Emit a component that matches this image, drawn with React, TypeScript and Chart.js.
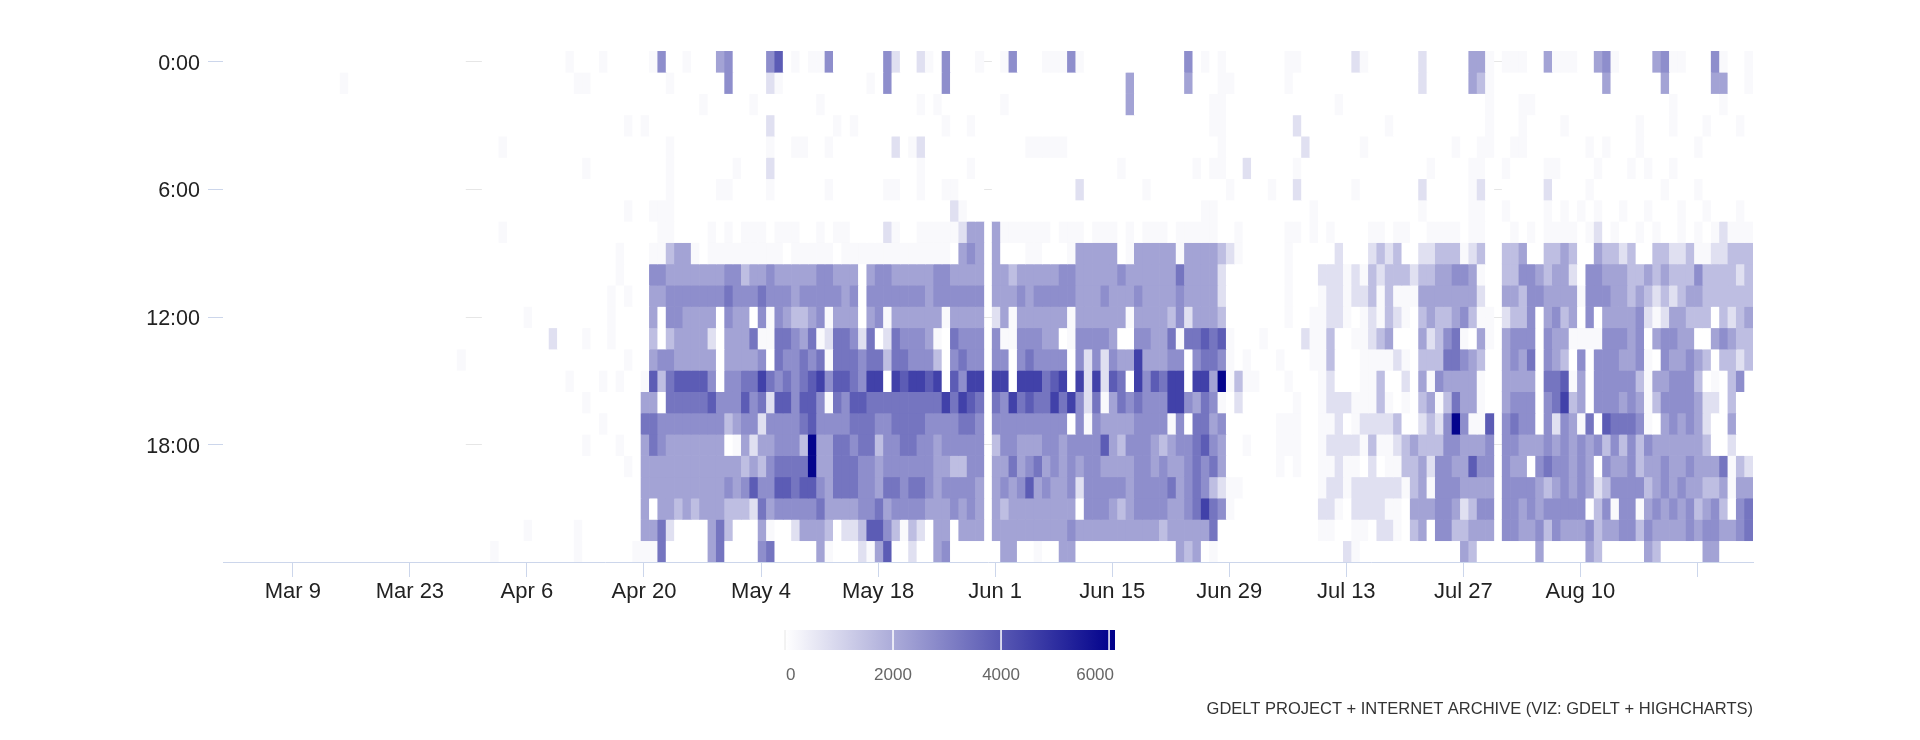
import React, { useEffect, useRef } from "react";
import { Chart, registerables } from "chart.js";

Chart.register(...registerables);

// one column per day, Mar 1 .. Aug 30 (2020)
const DAY_COUNT = 183;
const X_TICK_DAYS = [8, 22, 36, 50, 64, 78, 92, 106, 120, 134, 148, 162, 176];
const X_TICK_LABELS = ["Mar 9", "Mar 23", "Apr 6", "Apr 20", "May 4", "May 18", "Jun 1", "Jun 15", "Jun 29", "Jul 13", "Jul 27", "Aug 10", ""];
const Y_TICK_HOURS = [0, 6, 12, 18];
const Y_TICK_LABELS = ["0:00", "6:00", "12:00", "18:00"];

// estimated value for each shade ('_' = no data)
const LEVEL_VALUES = [0, 150, 750, 1550, 2200, 2700, 3300, 3900, 4550, 6000];
const COLOR_MAX = 6110;
const COLOR_TICKS = [0, 2000, 4000, 6000];

// one string per hour, one char per day, grouped by week
const HOUR_ROWS = [
  "0000000 0000000 0000000 0000000 0__0000 0000001 0001000 0015001 0004500 0057010 1150000 0052002 1050001 _015000 1115100 0000000 0005010 1000000 0110000 0021000 0002000 00441_1 1100411 1004510 0004511 0005100 1",
  "0000000 0000000 1000000 0000000 0__0000 0000000 1100000 0000100 0000500 0021000 0000000 1050000 0050000 _000000 0000000 0004000 0004000 1100000 0100000 0000000 0002000 00431_0 0000000 0000400 0000400 0004400 1",
  "0000000 0000000 0000000 0000000 0__0000 0000000 0000000 0000000 0100000 1000000 0100000 0000001 0100000 _010000 0000000 0004000 0000001 1000000 0000000 1000000 0000000 00001_0 0110000 0000000 0000010 0000100 0",
  "0000000 0000000 0000000 0000000 0__0000 0000000 0000001 0100000 0000000 0020000 0001010 0000000 0010010 _000000 0000000 0000000 0000001 1000000 0020000 0000001 0000000 00001_0 0100001 0000000 0100010 0010001 0",
  "0000000 0000000 0000000 0000000 0__0010 0000000 0000000 0000100 0000000 0010011 0010000 0002012 0000000 _000011 1110000 0000000 0000000 1000000 0002000 0001000 0000000 10011_0 1100000 0010100 0100000 0100000 0",
  "0000000 0000000 0000000 0000000 0__0000 0000000 0100000 0000100 0000010 0020000 0000000 0000001 0000010 _000000 0000000 0010000 0000101 1002000 0010000 0000000 0000100 00110_1 0000110 0001000 1010010 0000000 0",
  "0000000 0000000 0000000 0000000 0__0000 0000000 0000000 0000100 0001100 0010000 0010000 0011001 0011000 _000000 0000200 0000010 0000000 0100001 0020000 0010000 0002000 00120_0 0000200 0010000 0000100 0100000 0",
  "0000000 0000000 0000000 0000000 0__0000 0000000 0000001 0011100 0000000 0000000 0000000 0000000 0002100 _000000 0000000 0000000 0000011 0000000 0000100 0000000 0001000 00110_1 0000101 0101001 0010001 0010001 0",
  "0000000 0000000 0000000 0000000 0__0010 0000000 0000000 0001100 0010101 1101110 0101100 0021001 1111244 _411111 1011101 1101011 1011111 0010000 0110101 0000110 1100111 10110_0 1010111 1012010 0101001 0101211 1",
  "0000000 0000000 0000000 0000000 0__0000 0000000 0000010 0011344 1011111 1111011 1110111 1111111 1110454 _400011 0001444 4401444 4414444 3210000 0100000 2000232 3002233 31230_3 3400334 3004332 3003322 3112233 3",
  "0000000 0000000 0000000 0000000 0__0000 0000000 0000010 0055444 4444553 4454444 4554440 4554444 4554444 _443444 4455444 4454444 4464444 2000000 0100022 2121323 3323344 55410_3 3554344 2055444 3343433 3533332 3",
  "0000000 0000000 0000000 0000000 0__0000 0000000 0000101 0044555 5555655 5655545 5555450 5555555 4555555 _444545 5555444 5444544 4454444 2000000 0100012 2122313 1114444 44420_4 4355444 4155544 3432323 4433333 3",
  "0000000 0000000 0000000 0000000 0__0000 0100000 0000100 0040554 4440544 0515433 4514440 4514444 4414444 _241444 4441444 4441444 4352444 3000000 0100112 2101213 2103433 45311_2 3350453 4050444 4521244 3330323 4",
  "0000000 0000000 0000000 0000000 0__0000 0000200 0100100 0030344 4420444 6116654 6126652 6026555 4106555 _511555 4401555 5400554 4616676 7100010 0002113 0011234 0004235 61041_4 5550544 1111555 4504554 4004543 3",
  "0000000 0000000 0000000 0000000 1__0000 0000000 0000001 0045544 4440444 4506556 5616665 6636655 5305655 _550565 5550525 2544844 4550566 5101000 1000113 0001111 2103336 65430_4 5460543 0505554 4510544 5430332 3",
  "0000000 0000000 0000000 0000000 0__0000 0000001 0001010 0173677 7750556 6865656 7857765 8808788 7807588 _880888 6780828 2760857 6880884 9131100 0100012 0001130 0204154 44410_4 4440667 1405555 5314455 5301035 0",
  "0000000 0000000 0000000 0000000 0__0000 0000000 0100000 0440666 6675557 5627757 7516577 6666666 6686876 _658676 6868526 1465655 5885465 1020000 0010012 2211131 0103413 64410_4 5550568 3405554 5413555 5422030 0",
  "0000000 0000000 0000000 0000000 0__0000 0000000 0001000 0665555 5555345 5255556 7555566 6556666 5555665 _555555 5550515 4444555 5150664 5000000 1110011 2012222 3002325 95117_5 6550525 4160766 6510454 5420040 0",
  "0000000 0000000 0000000 0000000 0__0000 0000000 0100010 0465444 4444014 2445553 9446656 6355665 5455555 _355444 5545555 7435554 3455675 4001000 1110012 2221311 2343335 54445_5 5444545 4545353 5354444 4430020 0",
  "0000000 0000000 0000000 0000000 0__0000 0000000 0000001 0444444 4444443 4356666 9446665 5455555 5443355 _446456 4545455 4444554 5445656 4000000 1010011 2110201 1334255 44755_5 4405655 4540544 5344544 5444613 2",
  "0000000 0000000 0000000 0000000 0__0000 0000000 0000000 0444444 4444545 7557767 7546665 5466566 5455554 _454574 5445255 5554555 5645653 2110000 0000012 2122222 2134155 54444_5 5554345 4542355 5534545 4433414 4",
  "0000000 0000000 0000000 0000000 0__0000 0000000 0000000 0404434 3444333 2645555 5644445 5645555 4445454 _434444 4444055 5434555 5445686 5100000 0000022 1022221 1044455 42355_5 5454555 5503515 5145454 5345305 6",
  "0000000 0000000 0000000 0000000 0__0000 0100000 1000000 0446200 0046300 0410024 4430223 7753132 0440444 _444444 4445444 4444444 3444446 0000000 0000011 0011022 1034055 33444_5 5445354 4453445 5354444 5455445 6",
  "0000000 0000000 0000000 0000000 0__0100 0000000 1000000 1116000 0046000 0560000 0410002 1470020 0450000 _044001 0044000 0000000 0043401 0000000 0000000 0210000 0000000 04300_0 0004000 0043000 0043000 0044000 0",
];

const FONT = '"Liberation Sans", Arial, Helvetica, sans-serif';
const TICK_SHIFT = -0.15; // day ticks sit a little left of the cell centres

function decodeRow(row: string): (number | null)[] {
  const chars = row.replace(/\s+/g, "").padEnd(DAY_COUNT, "0").slice(0, DAY_COUNT).split("");
  return chars.map((ch) => (ch === "_" ? null : LEVEL_VALUES[Number(ch)] ?? 0));
}

function cellColor(v: number): string {
  const t = Math.min(Math.max(v / COLOR_MAX, 0), 1);
  const rg = Math.round(255 * (1 - t));
  const b = Math.round(255 - t * (255 - 139));
  return `rgb(${rg},${rg},${b})`;
}

const colorAxisPlugin = {
  id: "colorAxisLegend",
  afterDraw(chart: any) {
    const ctx: CanvasRenderingContext2D = chart.ctx;
    const x0 = 785;
    const x1 = 1115;
    const top = 630;
    const h = 20;
    ctx.save();
    const grad = ctx.createLinearGradient(x0, 0, x1, 0);
    grad.addColorStop(0, cellColor(0));
    grad.addColorStop(1, cellColor(COLOR_MAX));
    ctx.fillStyle = grad;
    ctx.fillRect(x0, top, x1 - x0, h);

    ctx.font = `17px ${FONT}`;
    ctx.textBaseline = "middle";
    ctx.textAlign = "center";
    COLOR_TICKS.forEach((v) => {
      const x = x0 + (v / COLOR_MAX) * (x1 - x0);
      ctx.strokeStyle = v === 0 ? "#e6e6e6" : "#ffffff";
      ctx.lineWidth = v === 0 ? 1 : 1.5;
      ctx.beginPath();
      ctx.moveTo(x, top);
      ctx.lineTo(x, top + h);
      ctx.stroke();
      const label = String(v);
      const w = ctx.measureText(label).width;
      const cx = Math.min(Math.max(x, x0 + w / 2 + 1), x1 - w / 2 - 1);
      ctx.fillStyle = "#666666";
      ctx.fillText(label, cx, 675);
    });

    ctx.font = `16.5px ${FONT}`;
    ctx.fillStyle = "#333333";
    ctx.textAlign = "right";
    ctx.fillText("GDELT PROJECT + INTERNET ARCHIVE (VIZ: GDELT + HIGHCHARTS)", chart.chartArea.right, 709);
    ctx.restore();
  },
};

const App: React.FC = () => {
  const canvasRef = useRef<HTMLCanvasElement | null>(null);

  useEffect(() => {
    if (!canvasRef.current) return;
    const ctx = canvasRef.current.getContext("2d");
    if (!ctx) return;

    const datasets = HOUR_ROWS.map((row, hour) => {
      const cells: { x: number; y: [number, number]; v: number }[] = [];
      decodeRow(row).forEach((v, day) => {
        if (v !== null) cells.push({ x: day, y: [hour, hour + 1], v });
      });
      return {
        label: `${hour}:00`,
        data: cells,
        backgroundColor: (c: any) => cellColor(c.raw ? c.raw.v : 0),
        borderWidth: 0,
        barPercentage: 1,
        categoryPercentage: 1,
        grouped: false,
      };
    });

    const chart = new Chart(ctx, {
      type: "bar",
      data: { datasets: datasets as any },
      options: {
        responsive: false,
        animation: false,
        events: [],
        layout: { padding: { left: 0, right: 167, top: 51, bottom: 0 } },
        plugins: {
          legend: { display: false },
          tooltip: { enabled: false },
        },
        scales: {
          x: {
            type: "linear",
            min: -0.5,
            max: DAY_COUNT - 0.5,
            offset: false,
            bounds: "data",
            grid: {
              offset: false,
              drawOnChartArea: false,
              drawTicks: true,
              tickLength: 15,
              tickColor: "#ccd6eb",
              tickWidth: 1,
            },
            border: { display: true, color: "#ccd6eb", width: 1 },
            ticks: {
              autoSkip: false,
              maxRotation: 0,
              minRotation: 0,
              padding: 2,
              color: "#222222",
              font: { family: FONT, size: 22 },
              callback: (_v: any, i: number) => X_TICK_LABELS[i] ?? "",
            },
            afterBuildTicks: (axis: any) => {
              axis.ticks = X_TICK_DAYS.map((d) => ({ value: d + TICK_SHIFT }));
            },
            afterFit: (axis: any) => {
              axis.height = 178;
            },
          },
          y: {
            type: "linear",
            min: 0,
            max: 24,
            reverse: true,
            bounds: "data",
            grid: {
              color: "#e6e6e6",
              lineWidth: 1,
              drawTicks: true,
              tickLength: 15,
              tickColor: "#ccd6eb",
            },
            border: { display: false },
            ticks: {
              autoSkip: false,
              padding: 8,
              labelOffset: 2,
              color: "#222222",
              font: { family: FONT, size: 21.5 },
              callback: (_v: any, i: number) => Y_TICK_LABELS[i] ?? "",
            },
            afterBuildTicks: (axis: any) => {
              axis.ticks = Y_TICK_HOURS.map((h) => ({ value: h + 0.5 }));
            },
            afterFit: (axis: any) => {
              axis.width = 223;
            },
          },
        },
      } as any,
      plugins: [colorAxisPlugin],
    });

    return () => {
      chart.destroy();
    };
  }, []);

  return (
    <div style={{ position: "absolute", left: 0, top: 0, width: 1920, height: 740, background: "#ffffff" }}>
      <canvas ref={canvasRef} width={1920} height={740} style={{ width: 1920, height: 740 }}></canvas>
    </div>
  );
};

export default App;
